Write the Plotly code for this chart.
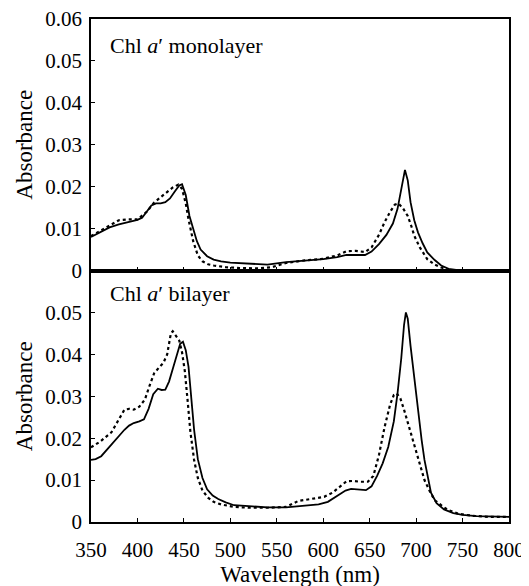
import plotly.graph_objects as go
from plotly.subplots import make_subplots

# Monolayer (top panel)
mono_solid_wl = [350, 360, 370, 380, 390, 400, 405, 410, 415, 420, 425, 430, 435, 440, 445, 448, 452, 456, 460, 464, 468, 475, 482, 490, 500, 520, 540, 560, 580, 600, 615, 625, 635, 645, 652, 660, 668, 675, 680, 684, 688, 691, 694, 698, 702, 707, 712, 720, 727, 735, 745, 760, 800]
mono_solid_abs = [0.0080, 0.0092, 0.0103, 0.0110, 0.0116, 0.0121, 0.0126, 0.0140, 0.0155, 0.0160, 0.0160, 0.0163, 0.0172, 0.0188, 0.0203, 0.0206, 0.0180, 0.0130, 0.0099, 0.0070, 0.0050, 0.0034, 0.0026, 0.0022, 0.0019, 0.0016, 0.0014, 0.0020, 0.0024, 0.0027, 0.0032, 0.0037, 0.0037, 0.0037, 0.0045, 0.0063, 0.0085, 0.0112, 0.0147, 0.0195, 0.0240, 0.0215, 0.0163, 0.0120, 0.0091, 0.0065, 0.0043, 0.0025, 0.0012, 0.0004, 0.0001, 0.0, 0.0]

mono_dot_wl = [350, 360, 370, 380, 390, 400, 410, 418, 425, 432, 438, 444, 448, 452, 455, 460, 465, 470, 476, 482, 495, 510, 530, 545, 560, 580, 600, 615, 625, 635, 645, 652, 660, 666, 672, 677, 681, 686, 691, 695, 698, 704, 712, 720, 727, 735, 745, 800]
mono_dot_abs = [0.0082, 0.0095, 0.0108, 0.0120, 0.0122, 0.0122, 0.0140, 0.0162, 0.0175, 0.0188, 0.0198, 0.0205, 0.0195, 0.0160, 0.0122, 0.0070, 0.0036, 0.0022, 0.0015, 0.0012, 0.0008, 0.0006, 0.0005, 0.0008, 0.0018, 0.0024, 0.0028, 0.0036, 0.0046, 0.0047, 0.0044, 0.0055, 0.0085, 0.0115, 0.0140, 0.0157, 0.0160, 0.0148, 0.0130, 0.0105, 0.0083, 0.0055, 0.0027, 0.0014, 0.0007, 0.0002, 0.0, 0.0]

# Bilayer (bottom panel)
bi_solid_wl = [350, 355, 361, 370, 380, 386, 391, 396, 402, 407, 412, 417, 422, 426, 430, 434, 438, 442, 446, 449, 452, 455, 458, 461, 465, 470, 475, 481, 487, 495, 504, 520, 540, 560, 580, 595, 605, 616, 624, 630, 638, 646, 652, 658, 664, 670, 676, 680, 684, 687, 689, 691, 694, 698, 702, 706, 709, 713, 716, 722, 730, 740, 750, 765, 784, 800]
bi_solid_abs = [0.0148, 0.0150, 0.0157, 0.0180, 0.0205, 0.0220, 0.0230, 0.0236, 0.0240, 0.0245, 0.0270, 0.0305, 0.0318, 0.0315, 0.0316, 0.0335, 0.0365, 0.0395, 0.0425, 0.0430, 0.0410, 0.0370, 0.0300, 0.0220, 0.0150, 0.0105, 0.0078, 0.0063, 0.0055, 0.0047, 0.0040, 0.0037, 0.0035, 0.0035, 0.0040, 0.0042, 0.0048, 0.0064, 0.0075, 0.0079, 0.0077, 0.0076, 0.0085, 0.0110, 0.0140, 0.0179, 0.0240, 0.0307, 0.0390, 0.0470, 0.0500, 0.0485, 0.0420, 0.0340, 0.0267, 0.0195, 0.0148, 0.0100, 0.0070, 0.0045, 0.0030, 0.0021, 0.0017, 0.0014, 0.0012, 0.0012]

bi_dot_wl = [350, 360, 372, 380, 386, 391, 396, 402, 408, 413, 418, 423, 428, 432, 436, 438, 441, 445, 448, 451, 454, 457, 461, 465, 470, 476, 482, 490, 504, 520, 540, 560, 573, 585, 601, 610, 618, 625, 632, 640, 648, 654, 660, 666, 672, 676, 679, 683, 687, 692, 698, 704, 709, 715, 720, 727, 734, 745, 760, 780, 800]
bi_dot_abs = [0.0178, 0.0192, 0.0214, 0.0245, 0.0268, 0.0270, 0.0268, 0.0275, 0.0292, 0.0325, 0.0355, 0.0368, 0.0380, 0.0400, 0.0450, 0.0455, 0.0445, 0.0433, 0.0405, 0.0360, 0.0290, 0.0215, 0.0148, 0.0105, 0.0075, 0.0058, 0.0048, 0.0042, 0.0036, 0.0034, 0.0034, 0.0036, 0.0050, 0.0055, 0.0060, 0.0070, 0.0085, 0.0097, 0.0098, 0.0096, 0.0096, 0.0110, 0.0160, 0.0226, 0.0280, 0.0303, 0.0307, 0.0295, 0.0268, 0.0230, 0.0178, 0.0135, 0.0100, 0.0072, 0.0052, 0.0040, 0.0029, 0.0020, 0.0015, 0.0012, 0.0012]

panel_labels = ["Chl <i>a</i>\u2032 monolayer", "Chl <i>a</i>\u2032 bilayer"]
x_ticks = [350, 400, 450, 500, 550, 600, 650, 700, 750, 800]
y_ticks_top = [0, 0.01, 0.02, 0.03, 0.04, 0.05, 0.06]
y_ticks_bottom = [0, 0.01, 0.02, 0.03, 0.04, 0.05]

FONT = "Liberation Serif"

fig = make_subplots(rows=2, cols=1, shared_xaxes=True, vertical_spacing=0)

fig.add_trace(go.Scatter(x=mono_solid_wl, y=mono_solid_abs, mode="lines",
                         line=dict(color="black", width=1.8), showlegend=False), row=1, col=1)
fig.add_trace(go.Scatter(x=mono_dot_wl, y=mono_dot_abs, mode="lines",
                         line=dict(color="black", width=2.2, dash="dot"), showlegend=False), row=1, col=1)
fig.add_trace(go.Scatter(x=bi_solid_wl, y=bi_solid_abs, mode="lines",
                         line=dict(color="black", width=1.8), showlegend=False), row=2, col=1)
fig.add_trace(go.Scatter(x=bi_dot_wl, y=bi_dot_abs, mode="lines",
                         line=dict(color="black", width=2.2, dash="dot"), showlegend=False), row=2, col=1)

axis_common = dict(showline=True, linecolor="black", linewidth=1.6, mirror=True,
                   showgrid=False, zeroline=False, ticks="inside", ticklen=4,
                   tickcolor="black", automargin=False, ticklabeloverflow="allow",
                   tickfont=dict(family=FONT, size=21, color="black"))

fig.update_xaxes(range=[350, 800], tickvals=x_ticks, **axis_common)
fig.update_xaxes(showticklabels=False, row=1, col=1)
fig.update_xaxes(ticklabelstandoff=8,
                 title=dict(text="Wavelength (nm)", font=dict(family=FONT, size=23, color="black"), standoff=2),
                 row=2, col=1)

fig.update_yaxes(range=[0, 0.06], ticklabelstandoff=3, **axis_common)
fig.update_yaxes(tickvals=y_ticks_top, ticktext=["0", "0.01", "0.02", "0.03", "0.04", "0.05", "0.06"],
                 title=dict(text="Absorbance", font=dict(family=FONT, size=23, color="black"), standoff=6),
                 row=1, col=1)
fig.update_yaxes(tickvals=y_ticks_bottom, ticktext=["0", "0.01", "0.02", "0.03", "0.04", "0.05"],
                 title=dict(text="Absorbance", font=dict(family=FONT, size=23, color="black"), standoff=6),
                 row=2, col=1)

fig.add_annotation(text=panel_labels[0], xref="x domain", yref="y domain", x=0.04, y=0.895,
                   xanchor="left", yanchor="middle", showarrow=False,
                   font=dict(family=FONT, size=22, color="black"))
fig.add_annotation(text=panel_labels[1], xref="x2 domain", yref="y2 domain", x=0.04, y=0.91,
                   xanchor="left", yanchor="middle", showarrow=False,
                   font=dict(family=FONT, size=22, color="black"))

# page body has a default margin, so margins are shifted to compensate
fig.update_layout(width=529, height=586, margin=dict(l=83, r=28, t=11, b=72),
                  font=dict(family=FONT, color="black"),
                  plot_bgcolor="white", paper_bgcolor="white")

fig.write_html("out.html")
